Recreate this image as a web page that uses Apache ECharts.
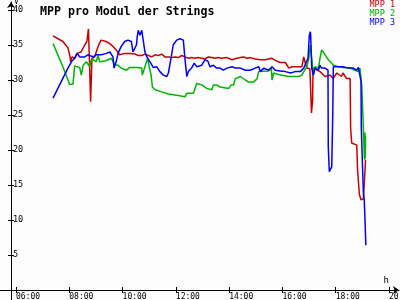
<!DOCTYPE html>
<html>
<head>
<meta charset="utf-8">
<script src="https://cdn.jsdelivr.net/npm/echarts@6/dist/echarts.min.js"></script>
<style>html,body{margin:0;padding:0;background:#fcfcfc;}#c{width:400px;height:300px;}</style>
</head>
<body>
<div id="c"></div>
<script>
// Hours of day (decimal) and voltage per module
var mpp1Times = [7.39,7.76,7.95,8.03,8.05,8.10,8.20,8.29,8.44,8.58,8.66,8.72,8.77,8.80,8.85,8.95,9.08,9.19,9.38,9.52,9.64,9.76,9.83,9.89,10.08,10.27,
  10.47,10.59,10.72,10.84,10.97,11.09,11.22,11.34,11.47,11.59,11.72,11.84,11.97,12.09,12.22,12.34,12.47,12.59,12.72,12.84,12.97,13.09,13.22,13.35,13.47,13.59,13.72,
  13.92,14.11,14.29,14.42,14.55,14.67,14.79,14.98,15.17,15.36,15.61,15.73,15.92,16.11,16.24,16.36,16.55,16.73,16.80,16.86,16.92,
  17.03,17.09,17.13,17.15,17.22,17.41,17.60,17.79,17.90,18.04,18.22,18.27,18.41,18.54,18.56,18.60,18.79,18.82,18.89,18.95,19.04,19.12];
var mpp1Values = [36.3,35.5,34.6,33.3,32.6,33.3,33.1,33.8,34.0,35.0,35.5,37.3,31.0,26.9,33.1,33.3,34.8,35.7,35.5,35.2,34.8,34.3,33.9,33.6,33.8,33.8,
  33.7,33.5,33.5,33.7,33.5,33.3,33.6,33.5,33.7,33.3,33.3,33.2,33.3,33.2,33.5,33.3,33.1,33.2,33.1,33.2,33.1,33.0,33.3,33.2,33.1,33.2,33.1,
  33.2,32.9,33.1,33.2,33.3,33.1,33.2,33.0,32.9,32.9,33.1,32.8,32.5,32.5,31.7,31.9,31.9,31.9,33.3,32.4,31.7,
  31.6,25.3,27.0,31.7,31.9,31.2,30.5,30.7,30.2,31.0,30.5,31.0,30.2,30.2,23.1,21.0,20.7,17.1,13.6,12.9,13.0,18.6];

var mpp2Times = [7.39,7.76,7.95,8.01,8.14,8.20,8.26,8.39,8.45,8.52,8.64,8.70,8.77,8.80,8.89,9.01,9.08,9.14,9.33,9.45,9.58,9.70,9.83,9.95,10.14,10.27,10.52,
  10.72,10.74,10.84,10.94,10.99,11.07,11.12,11.22,11.47,11.72,12.09,12.34,12.41,12.66,12.78,12.97,13.16,13.35,13.41,13.53,13.66,13.73,
  13.98,14.08,14.17,14.23,14.42,14.61,14.73,14.92,15.05,15.11,15.17,15.48,15.58,15.61,15.67,15.92,16.24,16.61,16.73,16.80,16.92,16.99,17.05,17.10,17.16,
  17.22,17.35,17.41,17.47,17.53,17.60,17.72,17.85,17.91,18.10,18.28,18.54,18.72,18.85,18.91,18.98,19.04,19.08,19.10,19.11,19.12];
var mpp2Values = [35.2,31.9,30.0,29.4,29.4,32.0,31.9,31.8,30.7,32.1,32.6,32.7,31.9,32.7,32.9,32.6,33.5,32.6,32.7,32.9,33.1,32.2,32.1,31.7,31.4,31.8,31.8,
  31.7,30.7,31.9,33.1,32.1,30.7,29.0,28.6,28.3,28.0,27.8,27.6,28.1,28.1,29.5,29.3,28.8,28.6,29.3,29.3,29.0,29.1,
  28.8,29.3,29.3,30.2,30.5,30.0,29.7,29.7,30.2,31.2,31.4,31.3,31.7,30.0,31.0,30.7,30.5,30.5,30.7,31.2,31.9,33.1,35.0,35.2,30.7,
  31.9,31.7,33.1,34.3,34.3,33.6,32.9,32.4,32.1,31.9,31.8,31.7,31.4,31.2,31.7,29.0,22.9,18.6,22.5,18.8,22.0];

var mpp3Times = [7.39,7.95,8.08,8.20,8.30,8.39,8.58,8.70,8.89,9.01,9.08,9.20,9.39,9.52,9.64,9.68,9.76,9.83,9.95,10.08,10.20,10.33,10.39,10.52,10.55,10.59,10.65,10.72,10.78,
  10.84,10.91,11.03,11.15,11.28,11.40,11.53,11.66,11.72,11.84,11.90,12.03,12.16,12.28,12.34,12.41,12.47,12.59,12.69,12.78,12.97,13.09,13.20,13.28,13.41,13.53,13.66,13.78,
  13.92,14.11,14.23,14.42,14.48,14.61,14.79,14.98,15.11,15.17,15.30,15.48,15.61,15.73,15.92,16.11,16.30,16.48,16.67,16.80,16.86,16.96,17.01,17.05,17.06,17.10,17.16,
  17.22,17.35,17.41,17.47,17.60,17.71,17.72,17.76,17.81,17.85,17.89,17.91,18.10,18.28,18.47,18.66,18.79,18.85,18.91,18.95,18.96,19.01,19.04,19.07,19.10,19.13];
var mpp3Values = [27.4,31.7,32.6,33.1,33.8,33.3,33.3,33.6,33.3,33.6,33.8,33.6,33.8,34.0,33.3,31.7,32.6,33.8,34.8,35.5,35.7,35.5,34.0,35.0,36.2,37.1,36.4,37.1,36.9,
  34.0,33.3,32.6,31.8,31.9,31.2,30.7,30.5,31.0,33.6,35.0,35.7,35.9,35.7,33.1,30.5,31.2,31.7,32.4,31.9,32.1,32.9,32.7,31.9,32.1,31.7,31.7,31.4,
  31.7,31.9,31.7,31.7,31.9,31.4,31.4,31.7,31.9,31.2,31.7,31.4,31.9,31.4,31.3,31.2,31.0,31.2,31.2,31.7,31.9,33.1,36.4,36.9,36.4,31.7,30.7,
  31.7,31.4,32.1,31.7,31.7,31.4,20.5,16.9,16.7,17.6,25.2,31.9,31.9,31.9,31.7,31.7,31.4,31.8,31.8,29.8,23.3,17.1,13.8,12.9,10.0,6.4];

var seriesNames = ['MPP 1','MPP 2','MPP 3'];
var xTickHours = [6,8,10,12,14,16,18,20];
var yTickValues = [5,10,15,20,25,30,35,40];

var colors = ['#c80000','#00b400','#0000ff'];
var mono = 'DejaVu Sans Mono';

function pairs(t, v){ return t.map(function(x,i){ return [x, v[i]]; }); }

var xMin = 6 - 16/26.643, xMax = 6 + 383/26.643;
var yMin = -10/7, yMax = 288/7;

var chart = echarts.init(document.getElementById('c'), null, {renderer:'canvas'});
var baseX = {
  type:'value', min:xMin, max:xMax, position:'bottom', offset:-10,
  splitLine:{show:false}
};
var baseY = {
  type:'value', min:yMin, max:yMax, position:'left', offset:-11,
  splitLine:{show:false}
};
chart.setOption({
  backgroundColor:'#fcfcfc',
  animation:false,
  title:{text:'MPP pro Modul der Strings', left:35, top:1,
    textStyle:{fontFamily:mono, fontWeight:'bold', fontSize:11.6, color:'#000'}},
  legend:{orient:'vertical', right:5, top:0, padding:0, itemGap:0, itemWidth:0, itemHeight:7.5,
    icon:'none', selectedMode:false,
    textStyle:{fontFamily:mono, fontSize:8.5, lineHeight:8, padding:0},
    data:seriesNames.map(function(n,i){ return {name:n, textStyle:{color:colors[i]}}; })},
  grid:{left:0, right:1, top:2, bottom:0, containLabel:false, outerBoundsMode:'none'},
  xAxis:[
    Object.assign({}, baseX, {
      name:'h', nameLocation:'end', nameGap:0,
      nameTextStyle:{fontFamily:mono, fontSize:9, color:'#000', align:'right', verticalAlign:'bottom', padding:[0,10,5,0]},
      axisLine:{show:true, onZero:false, symbol:['none','arrow'], symbolSize:[6,6], lineStyle:{color:'#000', width:1}},
      axisTick:{show:true, inside:false, length:3, customValues:xTickHours, lineStyle:{color:'#000'}},
      axisLabel:{show:true, customValues:xTickHours, margin:3, align:'left', fontFamily:mono, fontSize:8, color:'#000',
        formatter:function(v){ var h=Math.round(v); return (h<10?'0':'')+h+':00'; }}
    }),
    Object.assign({}, baseX, {
      axisLine:{show:false, onZero:false},
      axisTick:{show:true, inside:true, length:3, customValues:xTickHours, lineStyle:{color:'#000'}},
      axisLabel:{show:false}
    })
  ],
  yAxis:[
    Object.assign({}, baseY, {
      name:'V', nameLocation:'end', nameGap:-4,
      nameTextStyle:{fontFamily:mono, fontSize:8, color:'#000', align:'left', padding:[0,0,0,3]},
      axisLine:{show:true, onZero:false, symbol:['none','arrow'], symbolSize:[6,6], lineStyle:{color:'#000', width:1}},
      axisTick:{show:true, inside:false, length:3, customValues:yTickValues, lineStyle:{color:'#000'}},
      axisLabel:{show:true, inside:true, margin:2, customValues:yTickValues, fontFamily:mono, fontSize:8.5, color:'#000'}
    }),
    Object.assign({}, baseY, {
      axisLine:{show:false, onZero:false},
      axisTick:{show:true, inside:true, length:3, customValues:yTickValues, lineStyle:{color:'#000'}},
      axisLabel:{show:false}
    })
  ],
  series:[
    {name:seriesNames[0], type:'line', data:pairs(mpp1Times, mpp1Values), showSymbol:false, color:colors[0], lineStyle:{width:1.5}},
    {name:seriesNames[1], type:'line', data:pairs(mpp2Times, mpp2Values), showSymbol:false, color:colors[1], lineStyle:{width:1.5}},
    {name:seriesNames[2], type:'line', data:pairs(mpp3Times, mpp3Values), showSymbol:false, color:colors[2], lineStyle:{width:1.5}}
  ]
});
</script>
</body>
</html>
